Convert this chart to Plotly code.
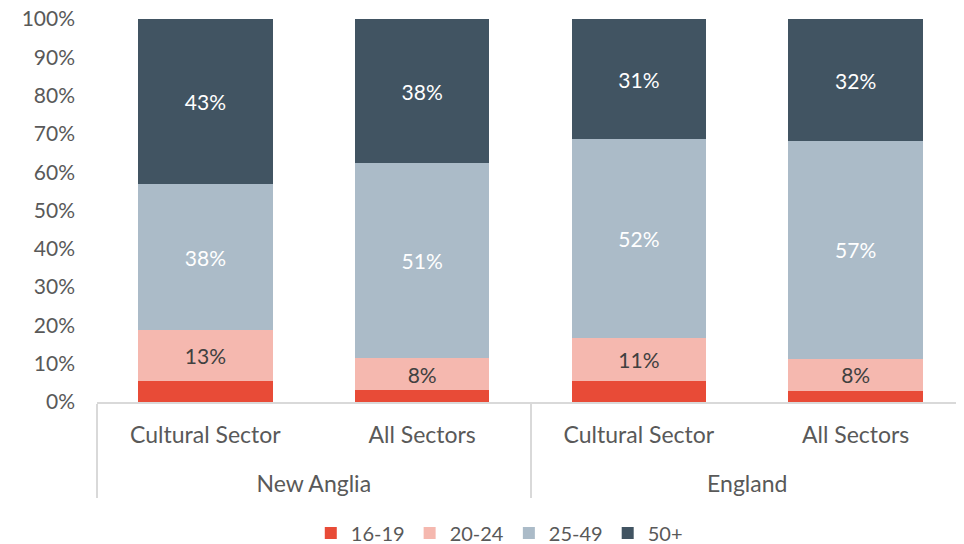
import plotly.graph_objects as go

regions = ["New Anglia", "New Anglia", "England", "England"]
sectors = ["Cultural Sector", "All Sectors", "Cultural Sector", "All Sectors"]

age_groups = ["16-19", "20-24", "25-49", "50+"]
v_16_19 = [5.6, 3.1, 5.6, 2.9]
v_20_24 = [13.2, 8.4, 11.0, 8.4]
v_25_49 = [38.0, 50.9, 52.0, 56.8]
v_50p = [43.2, 37.6, 31.4, 31.9]

series = [v_16_19, v_20_24, v_25_49, v_50p]
colors = ["#E84B37", "#F5B8AF", "#ABBBC8", "#415462"]
text_colors = ["#404040", "#404040", "#FFFFFF", "#FFFFFF"]
show_text = [False, True, True, True]

FONT = "Lato"

# a blank line under the inner labels pushes the outer (region) level down
sector_labels = [s + "<br> " for s in sectors]

fig = go.Figure()
for name, vals, col, tcol, st in zip(age_groups, series, colors, text_colors, show_text):
    fig.add_trace(go.Bar(
        x=[regions, sector_labels],
        y=vals,
        name=name,
        marker=dict(color=col, line=dict(width=0)),
        texttemplate="%{y:.0f}%" if st else "",
        textposition="inside",
        insidetextanchor="middle",
        textangle=0,
        textfont=dict(family=FONT, size=21, color=tcol),
        hoverinfo="skip",
    ))

# page body adds an 8px offset, so the figure is 8px smaller each way
fig.update_layout(
    barmode="stack",
    bargap=0.38,
    width=956,
    height=536,
    margin=dict(l=89, r=0, t=11, b=142, autoexpand=False),
    paper_bgcolor="white",
    plot_bgcolor="white",
    font=dict(family=FONT, size=20, color="#595959"),
    legend=dict(
        orientation="h",
        x=0.464, xanchor="center",
        y=-0.342, yanchor="middle",
        font=dict(family=FONT, size=20, color="#595959"),
        itemwidth=30,
        traceorder="normal",
    ),
    showlegend=True,
)

fig.update_xaxes(
    automargin=False,
    showline=True,
    linecolor="#D9D9D9",
    linewidth=2,
    showdividers=True,
    dividercolor="#D9D9D9",
    dividerwidth=2,
    ticks="",
    ticklabelstandoff=11,
    tickfont=dict(family=FONT, size=23, color="#595959"),
)
fig.update_yaxes(
    automargin=False,
    range=[0, 100],
    dtick=10,
    ticksuffix="%",
    showgrid=False,
    zeroline=False,
    showline=False,
    ticks="",
    ticklabelstandoff=21,
    ticklabeloverflow="allow",
    tickfont=dict(family=FONT, size=21, color="#595959"),
)

fig.write_html("out.html")
